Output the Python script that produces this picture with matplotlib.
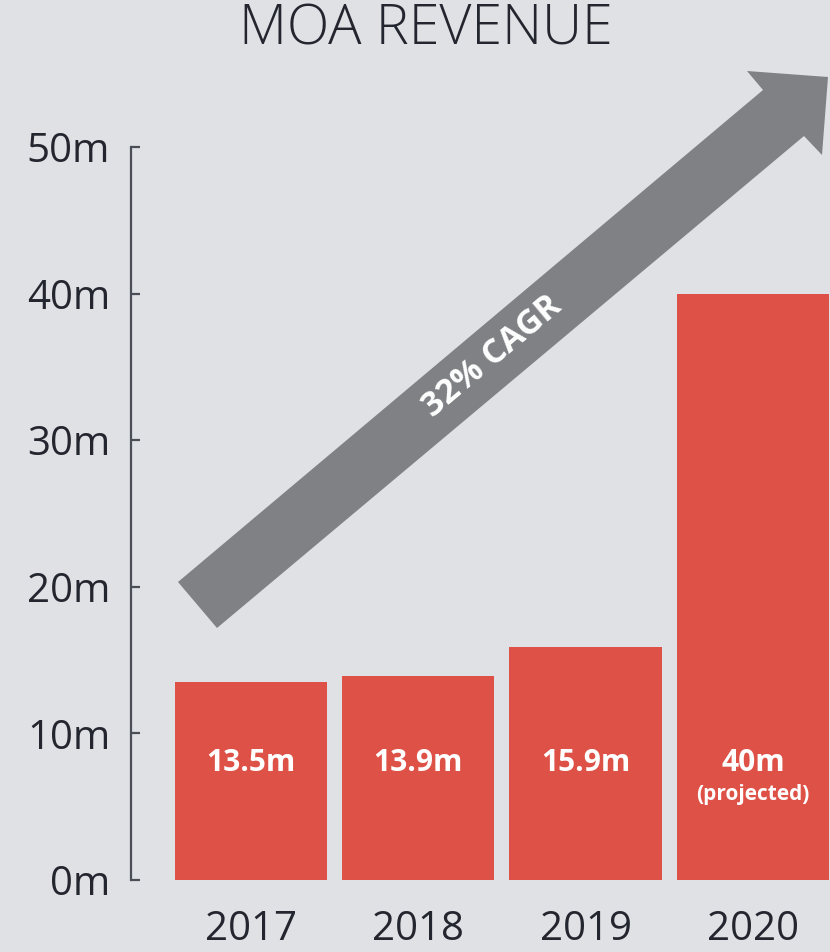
import matplotlib
matplotlib.use("Agg")
import matplotlib.pyplot as plt
from matplotlib.patches import Polygon

years = ["2017", "2018", "2019", "2020"]
revenue = [13.5, 13.9, 15.9, 40.0]
bar_labels = ["13.5m", "13.9m", "15.9m", "40m"]
y_ticks = [0, 10, 20, 30, 40, 50]
y_tick_labels = ["0m", "10m", "20m", "30m", "40m", "50m"]
title = "MOA REVENUE"
arrow_label = "32% CAGR"
projected_note = "(projected)"

BG = "#dfe1e5"
BAR = "#de5147"
ARROW = "#808185"
TEXT = "#23262e"
AXIS = "#4a4e57"
FONT = ["Open Sans", "DejaVu Sans"]

W, H = 830, 952
fig = plt.figure(figsize=(W / 100, H / 100), dpi=100, facecolor=BG)

def px(x, y):
    return (x / W, 1 - y / H)

ax_left, ax_right, ax_top, ax_bottom = 131, 830, 147, 880
ax = fig.add_axes([ax_left / W, 1 - ax_bottom / H, (ax_right - ax_left) / W, (ax_bottom - ax_top) / H])
ax.set_facecolor(BG)

xs = list(range(len(years)))
ax.bar(xs, revenue, width=0.91, color=BAR, zorder=2)
ax.set_xlim(-0.716, 3.46)
ax.set_ylim(0, 50)

for s in ["top", "right", "bottom"]:
    ax.spines[s].set_visible(False)
ax.spines["left"].set_color(AXIS)
ax.spines["left"].set_linewidth(1.6)

ax.set_yticks(y_ticks)
ax.set_yticklabels(y_tick_labels)
ax.set_xticks(xs)
ax.set_xticklabels(years)
ax.tick_params(axis="y", direction="in", length=6.5, width=1.6, color=AXIS, pad=15,
               labelsize=29, labelcolor=TEXT)
ax.tick_params(axis="x", length=0, pad=21, labelsize=29, labelcolor=TEXT)
for lab in ax.get_xticklabels() + ax.get_yticklabels():
    lab.set_family(FONT)
    lab.set_fontweight("normal")

for x, lbl in zip(xs, bar_labels):
    ax.text(x, 8.0, lbl, ha="center", va="center", color="white", fontsize=21.5,
            fontweight="bold", family=FONT, zorder=3)
ax.text(xs[-1], 5.8, projected_note, ha="center", va="center", color="white", fontsize=15,
        fontweight="bold", family=FONT, zorder=3)

# decorative growth arrow (figure pixel coordinates)
arrow_px = [(178, 582), (763, 90), (747, 71), (828, 77), (822, 155), (804, 136), (217, 628)]
poly = Polygon([px(x, y) for x, y in arrow_px], closed=True, transform=fig.transFigure,
               facecolor=ARROW, edgecolor="none", zorder=5)
fig.patches.append(poly)
cx, cy = px(492, 357)
fig.text(cx, cy, arrow_label, rotation=40, rotation_mode="anchor", ha="center", va="center",
         color="white", fontsize=24.5, fontweight="bold", family=FONT, zorder=6)

tx, ty = px(426, 30)
fig.text(tx, ty, title, ha="center", va="center", color=TEXT, fontsize=40,
         fontweight="light", family=FONT)

fig.savefig("out.png", dpi=100, facecolor=BG)
